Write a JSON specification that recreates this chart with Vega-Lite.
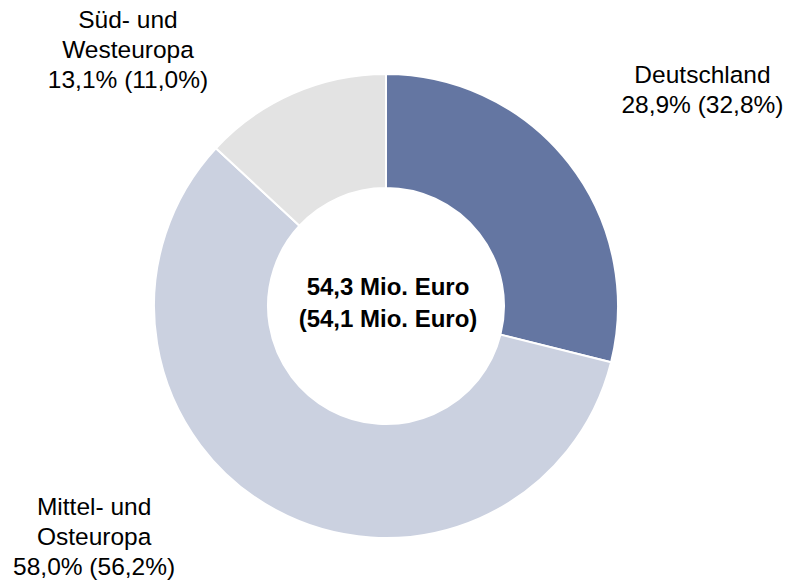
{
  "$schema": "https://vega.github.io/schema/vega-lite/v6.json",
  "width": 772,
  "height": 548,
  "autosize": {"type": "none"},
  "padding": {"left": 0, "right": 15, "top": 32, "bottom": 0},
  "background": "white",
  "config": {"view": {"stroke": null}, "text": {"font": "Liberation Sans", "color": "#000000"}},
  "datasets": {
    "regions": [
      {"region": "Deutschland", "share": 28.9, "label": "Deutschland\n28,9% (32,8%)"},
      {"region": "Mittel- und Osteuropa", "share": 58.0, "label": "Mittel- und\nOsteuropa\n58,0% (56,2%)"},
      {"region": "Süd- und Westeuropa", "share": 13.1, "label": "Süd- und\nWesteuropa\n13,1% (11,0%)"}
    ],
    "total": [
      {"txt": "54,3 Mio. Euro\n(54,1 Mio. Euro)"}
    ]
  },
  "layer": [
    {
      "data": {"name": "regions"},
      "mark": {"type": "arc", "outerRadius": 232, "innerRadius": 118, "stroke": "white", "strokeWidth": 2},
      "encoding": {
        "theta": {"field": "share", "type": "quantitative", "stack": true},
        "color": {
          "field": "region",
          "type": "nominal",
          "scale": {
            "domain": ["Deutschland", "Mittel- und Osteuropa", "Süd- und Westeuropa"],
            "range": ["#6476A2", "#CBD1E0", "#E3E3E3"]
          },
          "legend": null
        }
      }
    },
    {
      "data": {"name": "regions"},
      "mark": {"type": "text", "radius": 300, "lineBreak": "\n", "fontSize": 24.5, "lineHeight": 30, "align": "center", "baseline": "alphabetic", "dx": 80, "dy": -38},
      "encoding": {
        "theta": {"field": "share", "type": "quantitative", "stack": true},
        "detail": {"field": "region", "type": "nominal"},
        "text": {"condition": {"test": "datum.region === 'Deutschland'", "field": "label"}, "value": ""}
      }
    },
    {
      "data": {"name": "regions"},
      "mark": {"type": "text", "radius": 300, "lineBreak": "\n", "fontSize": 24.5, "lineHeight": 30, "align": "center", "baseline": "alphabetic", "dx": -149, "dy": -55},
      "encoding": {
        "theta": {"field": "share", "type": "quantitative", "stack": true},
        "detail": {"field": "region", "type": "nominal"},
        "text": {"condition": {"test": "datum.region === 'Mittel- und Osteuropa'", "field": "label"}, "value": ""}
      }
    },
    {
      "data": {"name": "regions"},
      "mark": {"type": "text", "radius": 300, "lineBreak": "\n", "fontSize": 24.5, "lineHeight": 30, "align": "center", "baseline": "alphabetic", "dx": -138, "dy": -3},
      "encoding": {
        "theta": {"field": "share", "type": "quantitative", "stack": true},
        "detail": {"field": "region", "type": "nominal"},
        "text": {"condition": {"test": "datum.region === 'Süd- und Westeuropa'", "field": "label"}, "value": ""}
      }
    },
    {
      "data": {"name": "total"},
      "mark": {"type": "text", "lineBreak": "\n", "fontSize": 24, "fontWeight": "bold", "lineHeight": 32, "align": "center", "baseline": "alphabetic", "dx": 2, "dy": -11},
      "encoding": {
        "text": {"field": "txt", "type": "nominal"}
      }
    }
  ]
}
